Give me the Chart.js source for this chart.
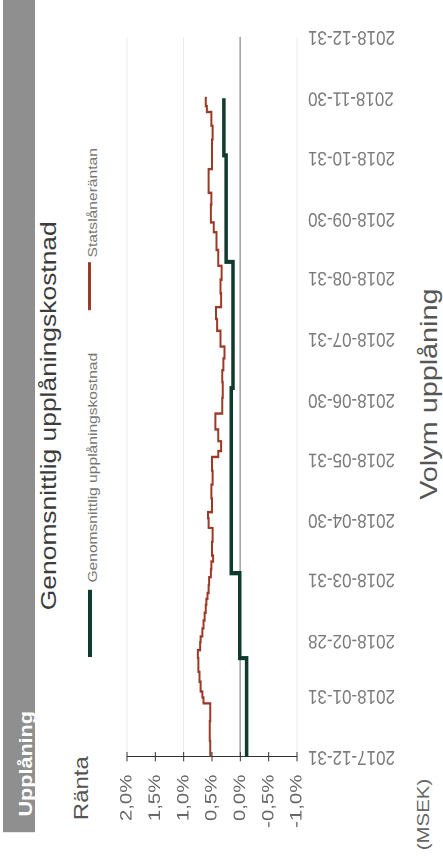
<!DOCTYPE html>
<html>
<head>
<meta charset="utf-8">
<script src="https://cdn.jsdelivr.net/npm/chart.js@4.4.1/dist/chart.umd.min.js"></script>
<style>
  html, body { margin: 0; padding: 0; background: #fff; }
  body { width: 443px; height: 861px; overflow: hidden; position: relative; font-family: "Liberation Sans", Arial, sans-serif; }
  /* the scanned page is turned a quarter and a bit stretched along the date axis */
  #page {
    position: absolute; left: 0; top: 0; width: 718px; height: 443px;
    transform-origin: 0 0;
    transform: translateY(861px) rotate(-90deg) scaleX(1.2);
  }
  .t { position: absolute; white-space: nowrap; line-height: 1; }
  #band { position: absolute; left: 24px; top: 3px; width: 694px; height: 32px; background: #8f8f8f; }
  #chartBox { position: absolute; left: 0; top: 0; width: 718px; height: 443px; }
</style>
</head>
<body>
<div id="page">
  <div id="band"></div>
  <div class="t" style="left:37px; top:17px; font-size:18px; font-weight:bold; color:#fff;">Upplåning</div>
  <div class="t" style="left:34px; top:71px; font-size:20px; color:#555;">Ränta</div>
  <div class="t" style="left:209px; top:38px; font-size:22px; color:#3c3c3c;">Genomsnittlig upplåningskostnad</div>
  <div style="position:absolute; left:170px; top:88px; width:56px; height:3.5px; background:#0e3b2e;"></div>
  <div class="t" style="left:232px; top:86px; font-size:13px; color:#777;">Genomsnittlig upplåningskostnad</div>
  <div style="position:absolute; left:459px; top:88px; width:40px; height:3px; background:#9c3a28;"></div>
  <div class="t" style="left:503px; top:86px; font-size:13px; color:#777;">Statslåneräntan</div>
  <div class="t" style="left:301px; top:417px; font-size:24px; color:#555;">Volym upplåning</div>
  <div class="t" style="left:9px; top:415px; font-size:17px; color:#666;">(MSEK)</div>
  <div id="chartBox"><canvas id="rateChart"></canvas></div>
</div>

<script>
// x-axis: month ends
const monthTicks = ['2017-12-31', '2018-01-31', '2018-02-28', '2018-03-31', '2018-04-30', '2018-05-31',
                    '2018-06-30', '2018-07-31', '2018-08-31', '2018-09-30', '2018-10-31', '2018-11-30', '2018-12-31'];

// y-axis (%)
const yTicks = [2.0, 1.5, 1.0, 0.5, 0.0, -0.5, -1.0];

// Genomsnittlig upplåningskostnad (step changes)
const greenDates  = ['2017-12-31', '2018-02-19', '2018-04-03', '2018-07-06', '2018-09-08', '2018-11-01', '2018-11-30'];
const greenValues = [-0.11, 0.01, 0.16, 0.13, 0.25, 0.29, 0.29];

// Statslåneräntan
const redDates = ['2017-12-31', '2018-01-08', '2018-01-18', '2018-01-27', '2018-01-30', '2018-02-02', '2018-02-07',
                  '2018-02-12', '2018-02-19', '2018-02-23', '2018-02-27', '2018-03-02', '2018-03-06', '2018-03-10',
                  '2018-03-14', '2018-03-18', '2018-03-21', '2018-03-24', '2018-03-28', '2018-04-01', '2018-04-05',
                  '2018-04-09', '2018-04-12', '2018-04-19', '2018-04-26', '2018-05-01', '2018-05-04', '2018-05-11',
                  '2018-05-18', '2018-05-25', '2018-06-01', '2018-06-04', '2018-06-09', '2018-06-15', '2018-06-23',
                  '2018-07-01', '2018-07-09', '2018-07-15', '2018-07-21', '2018-07-27', '2018-08-04', '2018-08-10',
                  '2018-08-16', '2018-08-23', '2018-08-30', '2018-09-06', '2018-09-14', '2018-09-23', '2018-09-28',
                  '2018-10-07', '2018-10-13', '2018-10-25', '2018-11-02', '2018-11-09', '2018-11-16', '2018-11-23',
                  '2018-11-26', '2018-11-30'];
const redValues = [0.53, 0.54, 0.53, 0.65, 0.67, 0.70, 0.72,
                   0.74, 0.75, 0.71, 0.70, 0.67, 0.65, 0.63,
                   0.61, 0.60, 0.58, 0.56, 0.55, 0.52, 0.51,
                   0.48, 0.50, 0.49, 0.56, 0.57, 0.50, 0.51,
                   0.49, 0.50, 0.39, 0.34, 0.39, 0.44, 0.32,
                   0.31, 0.32, 0.30, 0.28, 0.35, 0.41, 0.43,
                   0.34, 0.35, 0.33, 0.39, 0.42, 0.47, 0.52,
                   0.51, 0.56, 0.50, 0.50, 0.49, 0.51, 0.59,
                   0.61, 0.59];

const DAY0 = Date.UTC(2017, 11, 31);
const dayOf = s => (Date.parse(s) - DAY0) / 864e5;
const toPoints = (dates, values) => dates.map((d, i) => ({ x: dayOf(d), y: values[i] }));

// small "+" ticks crossing the y axis line
const crossTicks = {
    id: 'crossTicks',
    afterDraw(chart) {
        const y = chart.scales.y, ctx = chart.ctx, x0 = chart.chartArea.left;
        ctx.save();
        ctx.strokeStyle = '#333';
        ctx.lineWidth = 1;
        y.ticks.forEach(t => {
            const py = y.getPixelForValue(t.value);
            ctx.beginPath();
            ctx.moveTo(x0 - 4, py);
            ctx.lineTo(x0 + 4, py);
            ctx.stroke();
        });
        ctx.restore();
    }
};

const fontFamily = '"Liberation Sans", Arial, sans-serif';

new Chart(document.getElementById('rateChart').getContext('2d'), {
    type: 'line',
    data: {
        datasets: [
            {
                label: 'Statslåneräntan',
                data: toPoints(redDates, redValues),
                borderColor: '#9c3a28',
                borderWidth: 2,
                pointRadius: 0,
                stepped: true,
            },
            {
                label: 'Genomsnittlig upplåningskostnad',
                data: toPoints(greenDates, greenValues),
                borderColor: '#0e3b2e',
                borderWidth: 3.5,
                pointRadius: 0,
                stepped: true,
            }
        ]
    },
    options: {
        responsive: true,
        maintainAspectRatio: false,
        animation: false,
        devicePixelRatio: 2,
        layout: { padding: { top: 127, right: 15, bottom: 0, left: 0 } },
        plugins: { legend: { display: false }, title: { display: false }, tooltip: { enabled: false } },
        scales: {
            x: {
                type: 'linear',
                min: 0,
                max: dayOf(monthTicks[monthTicks.length - 1]),
                afterBuildTicks: scale => { scale.ticks = monthTicks.map(d => ({ value: dayOf(d) })); },
                afterFit: scale => { scale.height = 146; },
                grid: { display: false, drawTicks: false },
                border: { display: false },
                ticks: {
                    autoSkip: false,
                    minRotation: 90,
                    maxRotation: 90,
                    padding: 11,
                    color: '#7a7a7a',
                    font: { family: fontFamily, size: 17 },
                    callback: (v, i) => monthTicks[i]
                }
            },
            y: {
                min: -1,
                max: 2,
                afterBuildTicks: scale => { scale.ticks = yTicks.map(v => ({ value: v })); },
                afterFit: scale => { scale.width = 87; },
                grid: {
                    drawTicks: false,
                    color: c => c.tick.value === 0 ? '#8a8a8a' : (Number.isInteger(c.tick.value) ? '#ececec' : 'rgba(0,0,0,0)'),
                    lineWidth: c => c.tick.value === 0 ? 1.3 : 1
                },
                border: { display: true, color: '#333', width: 1 },
                ticks: {
                    padding: 15,
                    color: '#666',
                    font: { family: fontFamily, size: 17 },
                    callback: v => v.toFixed(1).replace('.', ',') + '%'
                }
            }
        }
    },
    plugins: [crossTicks]
});
</script>
</body>
</html>
